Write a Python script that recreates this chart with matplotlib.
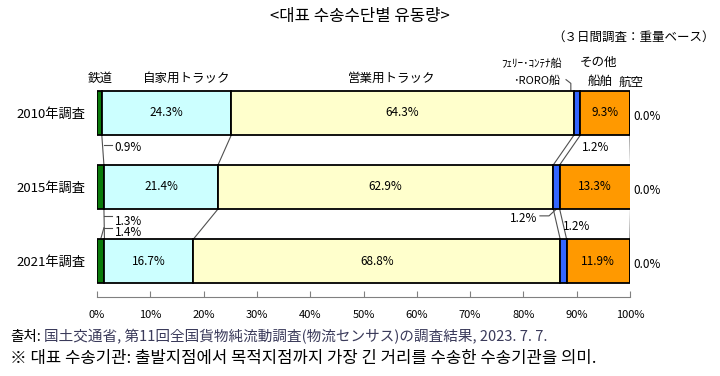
import matplotlib
matplotlib.use("Agg")
import matplotlib.pyplot as plt
import numpy as np

plt.rcParams['font.family'] = ['Noto Sans CJK JP', 'Noto Sans CJK KR', 'DejaVu Sans']

# data (share of tonnage, %)
years = ["2010年調査", "2015年調査", "2021年調査"]
modes = ["鉄道", "自家用トラック", "営業用トラック", "ﾌｪﾘｰ･ｺﾝﾃﾅ船･RORO船", "その他船舶", "航空"]
rail = [0.9, 1.3, 1.4]
own_truck = [24.3, 21.4, 16.7]
com_truck = [64.3, 62.9, 68.8]
ferry = [1.2, 1.2, 1.2]
other_ship = [9.3, 13.3, 11.9]
air = [0.0, 0.0, 0.0]

colors = ['#0a7a0a', '#ccffff', '#ffffcc', '#3366ff', '#ff9900', '#c0c0c0']

series = np.array([rail, own_truck, com_truck, ferry, other_ship, air])
n_years = len(years)
y = np.arange(n_years)
h = 0.595
kr = ['Noto Sans CJK KR', 'DejaVu Sans']

fig = plt.figure(figsize=(7.2, 3.76), dpi=100)
ax = fig.add_axes([97 / 720, (376 - 297) / 376, 533 / 720, 220 / 376])

left = np.zeros(n_years)
for i, vals in enumerate(series):
    ax.barh(y, vals, h, left=left, color=colors[i], edgecolor='black', linewidth=1.3, zorder=3)
    left += vals

# series lines between bars
cum = np.cumsum(series, axis=0)
for k in range(cum.shape[0] - 1):
    for j in range(n_years - 1):
        ax.plot([cum[k, j], cum[k, j + 1]], [j + h / 2, j + 1 - h / 2],
                color='#505050', lw=0.8, zorder=2)

# inside labels
for i in [1, 2, 4]:
    starts = cum[i] - series[i]
    for j in range(n_years):
        ax.text(starts[j] + series[i][j] / 2, j, f"{series[i][j]:.1f}%",
                ha='center', va='center', fontsize=8.5, zorder=4)

# air labels
for j in range(n_years):
    ax.text(103.2, y[j] + 0.05, f"{air[j]:.1f}%", ha='center', va='center', fontsize=8.5)

# rail labels with leaders
rail_lab_y = [0.47, 1.46, 1.62]
rail_lead_y = [0.43, 1.39, 1.55]
for j in range(n_years):
    ax.text(3.3, rail_lab_y[j], f"{rail[j]:.1f}%", ha='left', va='center', fontsize=8.5)
    ax.plot([1.3, 2.8], [rail_lead_y[j], rail_lead_y[j]], color='#505050', lw=0.8)
ax.plot([rail[2] / 2, 1.3], [2 - h / 2, rail_lead_y[2]], color='#505050', lw=0.8)

# ferry labels
fx = cum[2] + np.array(ferry) / 2
ax.text(cum[3][0] + 0.3, 0.46, f"{ferry[0]:.1f}%", ha='left', va='center', fontsize=8.5)
ax.text(cum[3][1] + 0.6, 1.54, f"{ferry[2]:.1f}%", ha='left', va='center', fontsize=8.5)
ax.text(82.7, 1.42, f"{ferry[1]:.1f}%", ha='right', va='center', fontsize=8.5)
ax.plot([83.1, 84.8, fx[1]], [1.39, 1.39, 1 + h / 2], color='#505050', lw=0.8)

# header labels
hy = -0.47
ax.text(0.6, hy, "鉄道", ha='center', va='center', fontsize=9)
ax.text(16.9, hy, "自家用トラック", ha='center', va='center', fontsize=9)
ax.text(55.3, hy, "営業用トラック", ha='center', va='center', fontsize=9)
ax.text(81.6, -0.66, "ﾌｪﾘｰ･ｺﾝﾃﾅ船", ha='center', va='center', fontsize=8)
ax.text(82.4, -0.43, "･RORO船", ha='center', va='center', fontsize=8)
ax.plot([88.0, 88.9, 88.9], [-0.45, -0.40, -h / 2], color='#505050', lw=0.8, clip_on=False)
ax.text(94.0, -0.68, "その他", ha='center', va='center', fontsize=9)
ax.text(94.4, -0.43, "船舶", ha='center', va='center', fontsize=9)
ax.text(100.2, -0.41, "航空", ha='center', va='center', fontsize=9)

ax.set_xlim(0, 100)
ax.set_ylim(2 + 0.486, -0.486)
ax.set_yticks(y)
ax.set_yticklabels(years, fontsize=9.5)
ax.tick_params(axis='y', length=0, pad=8)
ax.set_xticks(np.arange(0, 101, 10))
ax.set_xticklabels([f"{v}%" for v in range(0, 101, 10)], fontsize=8)
ax.tick_params(axis='x', direction='in', length=4, color='#808080', pad=9)
for s in ['top', 'right', 'left']:
    ax.spines[s].set_visible(False)
ax.spines['bottom'].set_color('#808080')
for t in ax.texts:
    t.set_clip_on(False)

fig.text(0.5, 1 - 17 / 376, "<대표 수송수단별 유동량>", ha='center', va='center',
         fontsize=12, family=kr)
fig.text(715 / 720, 1 - 37 / 376, "（３日間調査：重量ベース）", ha='right', va='center', fontsize=9)

fig.text(10 / 720, 1 - 337 / 376, "출처:", ha='left', va='center', fontsize=10.5, family=kr)
fig.text(44 / 720, 1 - 337 / 376, "国土交通省, 第11回全国貨物純流動調査(物流センサス)の調査結果, 2023. 7. 7.",
         ha='left', va='center', fontsize=10.5, color='#3a3a5a')
fig.text(10 / 720, 1 - 358 / 376, "※ 대표 수송기관: 출발지점에서 목적지점까지 가장 긴 거리를 수송한 수송기관을 의미.",
         ha='left', va='center', fontsize=12, family=kr)

fig.savefig("out.png", dpi=100)
